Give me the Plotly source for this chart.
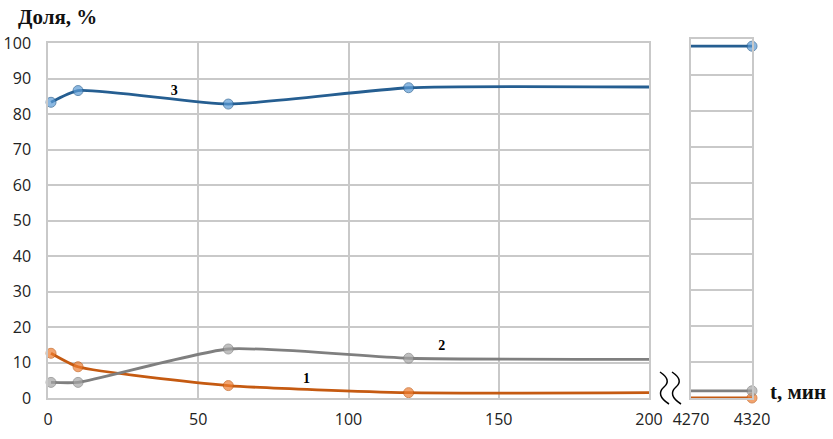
import plotly.graph_objects as go

W, H = 833, 439

# ---- data ----
t_left = [1, 10, 60, 120, 200]          # last value = curve level at the right edge of the left panel
s1_left = [12.6, 8.8, 3.5, 1.5, 1.5]    # curve 1 (orange)
s2_left = [4.4, 4.4, 13.8, 11.2, 10.9]  # curve 2 (grey)
s3_left = [83.3, 86.6, 82.8, 87.4, 87.6]  # curve 3 (blue)
left_marker_on = [1, 1, 1, 1, 0]

t_right = [4270, 4320]
s1_right = [0.0, 0.0]
s2_right = [2.0, 2.0]
s3_right = [98.0, 98.0]
right_marker_on = [0, 1]

x_ticks_left = [0, 50, 100, 150, 200]
x_ticks_right = [4270, 4320]
y_ticks = [0, 10, 20, 30, 40, 50, 60, 70, 80, 90, 100]

curve_labels = ["1", "2", "3"]
label_x = [86, 131, 42]
label_y = [5.1, 14.4, 86.4]

# ---- styles ----
series = [
    (s1_left, s1_right, "#C55A11", "#ED7D31"),
    (s2_left, s2_right, "#7F7F7F", "#A5A5A5"),
    (s3_left, s3_right, "#255E91", "#5B9BD5"),
]
GRID = "#C9C9C9"
MS = 10
SERIF = "Liberation Serif, Times New Roman, serif"

def px(x):
    return x / W

def py(y):
    return 1 - y / H

fig = go.Figure()
for sl, sr, lc, mc in series:
    fig.add_trace(go.Scatter(
        x=t_left, y=sl, mode="lines+markers", xaxis="x", yaxis="y",
        line=dict(color=lc, width=2.8, shape="spline", smoothing=0.55),
        marker=dict(size=[MS * m for m in left_marker_on], color=mc,
                    line=dict(color=lc, width=1)),
        cliponaxis=False, showlegend=False, hoverinfo="skip"))
    fig.add_trace(go.Scatter(
        x=t_right, y=sr, mode="lines+markers", xaxis="x2", yaxis="y2",
        line=dict(color=lc, width=2.8),
        marker=dict(size=[MS * m for m in right_marker_on], color=mc,
                    line=dict(color=lc, width=1)),
        cliponaxis=False, showlegend=False, hoverinfo="skip"))

fig.add_trace(go.Scatter(
    x=label_x, y=label_y, mode="text", text=curve_labels, xaxis="x", yaxis="y",
    textfont=dict(family=SERIF, size=14, color="black", weight="bold"),
    showlegend=False, hoverinfo="skip"))

tickfont = dict(family="Open Sans", size=16, color="#222222")

common = dict(automargin=False, zeroline=False, ticks="",
              showline=True, linecolor=GRID, linewidth=1.5, mirror=True)

fig.update_layout(
    width=W, height=H,
    margin=dict(l=0, r=0, t=0, b=0, autoexpand=False),
    paper_bgcolor="white", plot_bgcolor="white",
    xaxis=dict(domain=[px(48), px(649)], range=[0, 200], tickvals=x_ticks_left,
               showgrid=True, gridcolor=GRID, gridwidth=1.5,
               tickfont=tickfont, ticklabelstandoff=6, anchor="y", **common),
    yaxis=dict(domain=[py(398), py(43)], range=[0, 100], tickvals=y_ticks,
               showgrid=True, gridcolor=GRID, gridwidth=1.5,
               tickfont=tickfont, ticklabelstandoff=12, anchor="x", **common),
    xaxis2=dict(domain=[px(691), px(752)], range=[4270, 4320], tickvals=x_ticks_right,
                showgrid=False, tickfont=tickfont, ticklabelstandoff=6,
                anchor="y2", **common),
    yaxis2=dict(domain=[py(398), py(39)], range=[0, 100], tickvals=y_ticks,
                showgrid=True, gridcolor=GRID, gridwidth=1.5,
                showticklabels=False, anchor="x2", **common),
)

fig.add_annotation(text="Доля, %", xref="paper", yref="paper",
                   x=px(16), y=py(17), xanchor="left", yanchor="middle",
                   showarrow=False,
                   font=dict(family=SERIF, size=21, color="#111111", weight="bold"))
fig.add_annotation(text="t, мин", xref="paper", yref="paper",
                   x=px(768), y=py(392), xanchor="left", yanchor="middle",
                   showarrow=False,
                   font=dict(family=SERIF, size=21, color="#111111", weight="bold"))

# axis-break marks
def wave(x0):
    pts = [(x0 + 2, 372), (x0 + 14, 380), (x0 + 6, 387), (x0 - 3, 395), (x0 + 11, 404)]
    p = [(px(a), py(b)) for a, b in pts]
    return (f"M {p[0][0]},{p[0][1]} Q {p[1][0]},{p[1][1]} {p[2][0]},{p[2][1]} "
            f"Q {p[3][0]},{p[3][1]} {p[4][0]},{p[4][1]}")

for x0 in (658, 670):
    fig.add_shape(type="path", path=wave(x0), xref="paper", yref="paper",
                  line=dict(color="black", width=1.5))

fig.write_html("out.html", config={"displayModeBar": False},
               post_script="document.body.style.margin='0';document.body.style.overflow='hidden';")
